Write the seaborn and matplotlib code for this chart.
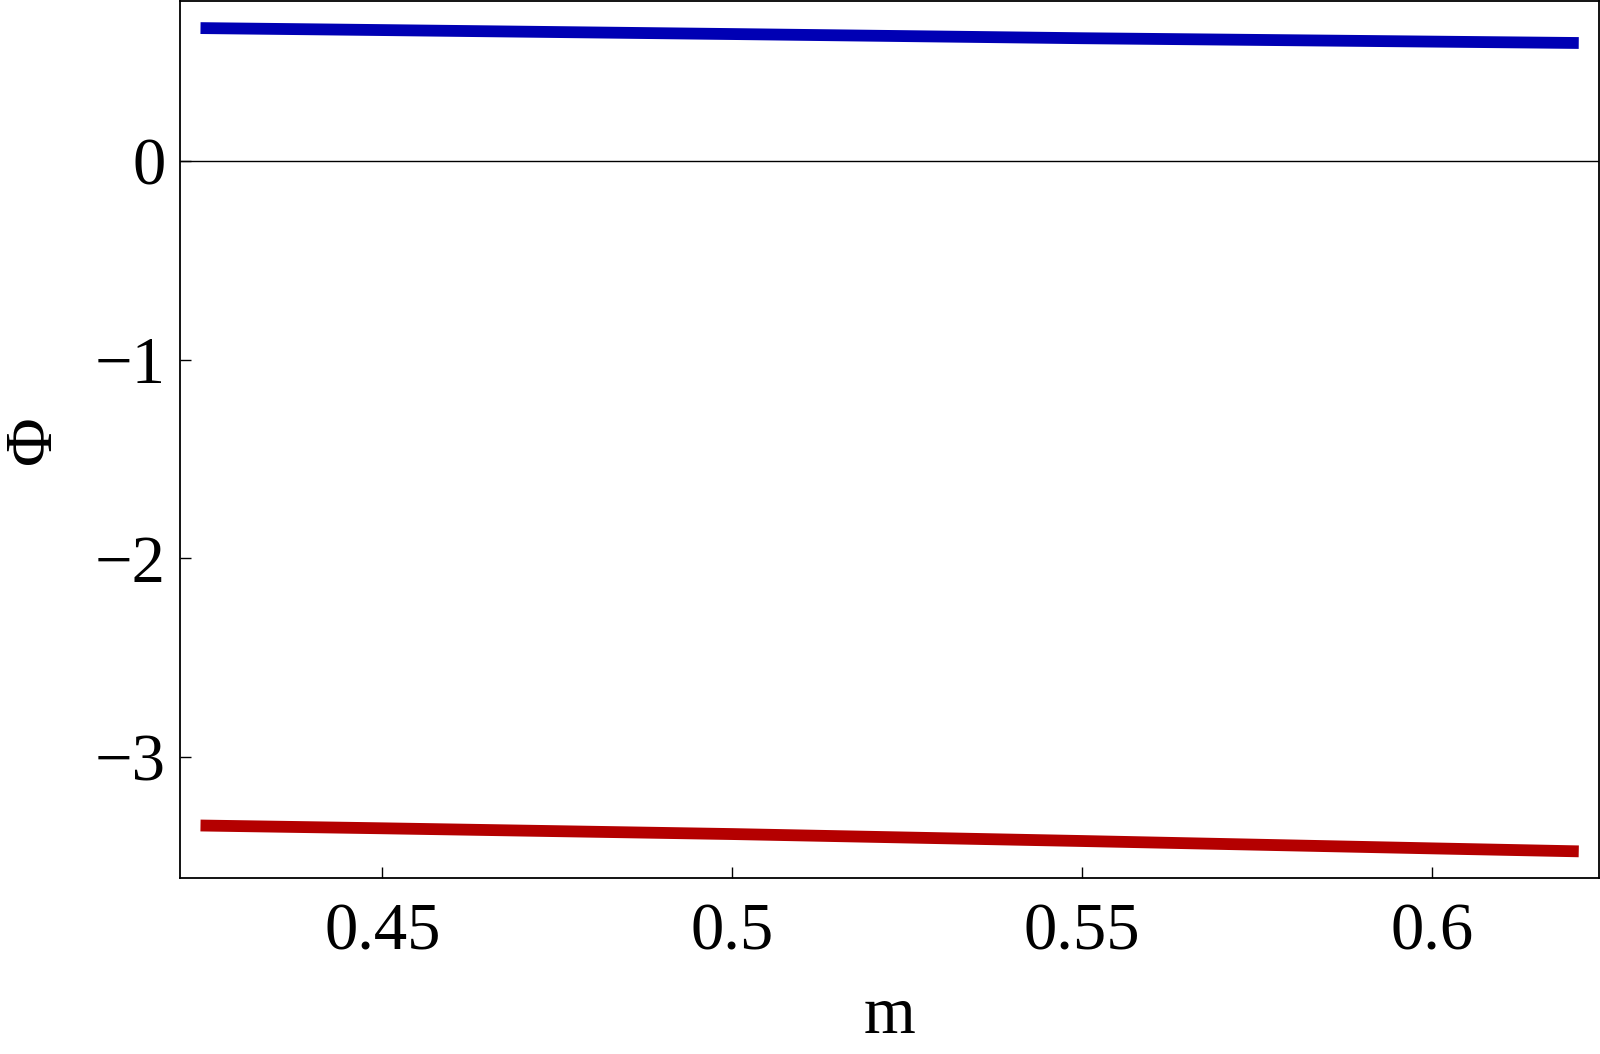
import numpy as np
import pandas as pd
import seaborn as sns
import matplotlib
matplotlib.use('Agg')
import matplotlib.pyplot as plt

# values
m = [0.424, 0.45, 0.5, 0.55, 0.6, 0.621]
phi_upper = [0.668, 0.658, 0.638, 0.617, 0.600, 0.593]
phi_lower = [-3.344, -3.358, -3.387, -3.422, -3.459, -3.474]

xticks = [0.45, 0.5, 0.55, 0.6]
xticklabels = ['0.45', '0.5', '0.55', '0.6']
yticks = [0, -1, -2, -3]

sns.set_style('white')
plt.rcParams['font.family'] = ['Liberation Serif', 'DejaVu Serif']
plt.rcParams['text.color'] = 'black'
plt.rcParams['axes.labelcolor'] = 'black'
plt.rcParams['xtick.color'] = 'black'
plt.rcParams['ytick.color'] = 'black'

df = pd.DataFrame({'m': m + m,
                   'phi': phi_upper + phi_lower,
                   'branch': ['upper'] * len(m) + ['lower'] * len(m)})

fig = plt.figure(figsize=(16, 10.54), dpi=100)
ax = fig.add_axes([0.1122, 0.167, 0.8872, 0.832])

sns.lineplot(data=df, x='m', y='phi', hue='branch',
             palette={'upper': '#0000b4', 'lower': '#b40000'},
             linewidth=8.5, legend=False, ax=ax, solid_capstyle='butt')

ax.axhline(0, color='black', linewidth=1.0, zorder=1)

ax.set_xlim(0.421, 0.6239)
ax.set_ylim(-3.608, 0.804)
ax.set_xticks(xticks)
ax.set_xticklabels(xticklabels)
ax.set_yticks(yticks)
ax.yaxis.set_major_formatter(matplotlib.ticker.FuncFormatter(
    lambda v, p: '0' if v == 0 else '\u2212%d' % abs(v)))

ax.tick_params(direction='in', length=8, width=1, labelsize=48,
               bottom=True, left=True, top=False, right=False)
ax.tick_params(axis='x', pad=18)
ax.tick_params(axis='y', pad=10)

for s in ax.spines.values():
    s.set_linewidth(1.3)
    s.set_color('black')

ax.set_xlabel('m', fontsize=48, labelpad=16)
ax.set_ylabel('\u03a6', fontsize=48, labelpad=22)

fig.savefig('out.png', dpi=100)
